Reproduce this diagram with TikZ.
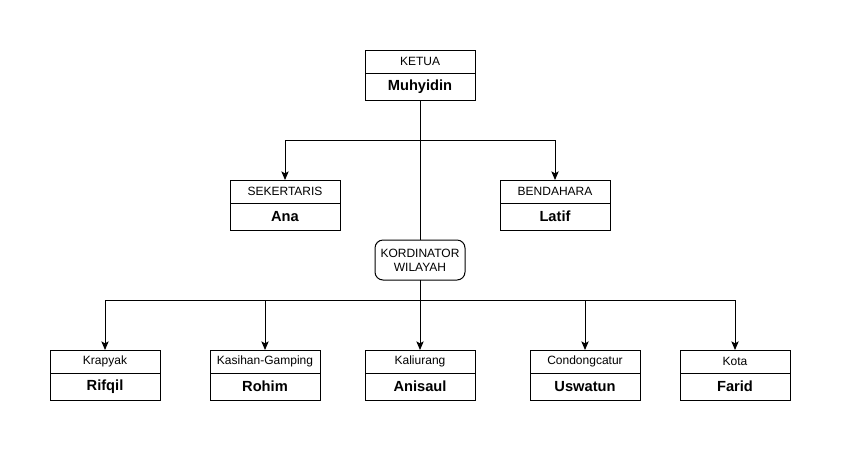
\documentclass[tikz,border=0pt]{standalone}
\usepackage{fontspec}
\setmainfont{Liberation Sans}
\usetikzlibrary{arrows.meta}
\begin{document}
\begin{tikzpicture}[x=0.75pt,y=-0.75pt,
  every node/.style={inner sep=0pt,outer sep=0pt},
  hdr/.style={draw,line width=0.75pt,minimum width=82.5pt,minimum height=17.25pt,anchor=north,font=\fontsize{9}{10.5}\selectfont},
  bdy/.style={draw,line width=0.75pt,minimum width=82.5pt,minimum height=20.25pt,anchor=north,font=\fontsize{11}{12}\selectfont\bfseries},
  kord/.style={draw,line width=0.75pt,rounded corners=6pt,minimum width=67.5pt,minimum height=30pt,align=center,font=\fontsize{9}{10.5}\selectfont},
  conn/.style={line width=0.75pt},
  arr/.style={line width=0.75pt,-{Stealth[length=6.5pt,width=5.5pt,inset=1.5pt]}}
]
\useasboundingbox (0,0) rectangle (841,451);
% Ketua
\node[hdr] (ketuaH) at (420,50) {KETUA};
\node[bdy] (ketua) at (ketuaH.south) {Muhyidin};
% Sekertaris
\node[hdr] (sekH) at (285,180) {SEKERTARIS};
\node[bdy] (sek) at (sekH.south) {Ana};
% Bendahara
\node[hdr] (benH) at (555,180) {BENDAHARA};
\node[bdy] (ben) at (benH.south) {Latif};
% Kordinator
\node[kord] (kor) at (420,260) {KORDINATOR\\WILAYAH};
% bottom
\node[hdr] (krH) at (105,350) {Krapyak};
\node[bdy] (kr) at (krH.south) {Rifqil};
\node[hdr] (kgH) at (265,350) {Kasihan-Gamping};
\node[bdy] (kg) at (kgH.south) {Rohim};
\node[hdr] (kaH) at (420,350) {Kaliurang};
\node[bdy] (ka) at (kaH.south) {Anisaul};
\node[hdr] (coH) at (585,350) {Condongcatur};
\node[bdy] (co) at (coH.south) {Uswatun};
\node[hdr] (koH) at (735,350) {Kota};
\node[bdy] (ko) at (koH.south) {Farid};
% junction coordinates
\coordinate (j1) at (420,140);
\coordinate (j2) at (420,300);
% connectors
\draw[conn] (ketua.south) -- (kor.north);
\draw[arr] (j1) -| (sekH.north);
\draw[arr] (j1) -| (benH.north);
\draw[arr] (kor.south) -- (kaH.north);
\draw[arr] (j2) -| (krH.north);
\draw[arr] (j2) -| (kgH.north);
\draw[arr] (j2) -| (coH.north);
\draw[arr] (j2) -| (koH.north);
\end{tikzpicture}
\end{document}
